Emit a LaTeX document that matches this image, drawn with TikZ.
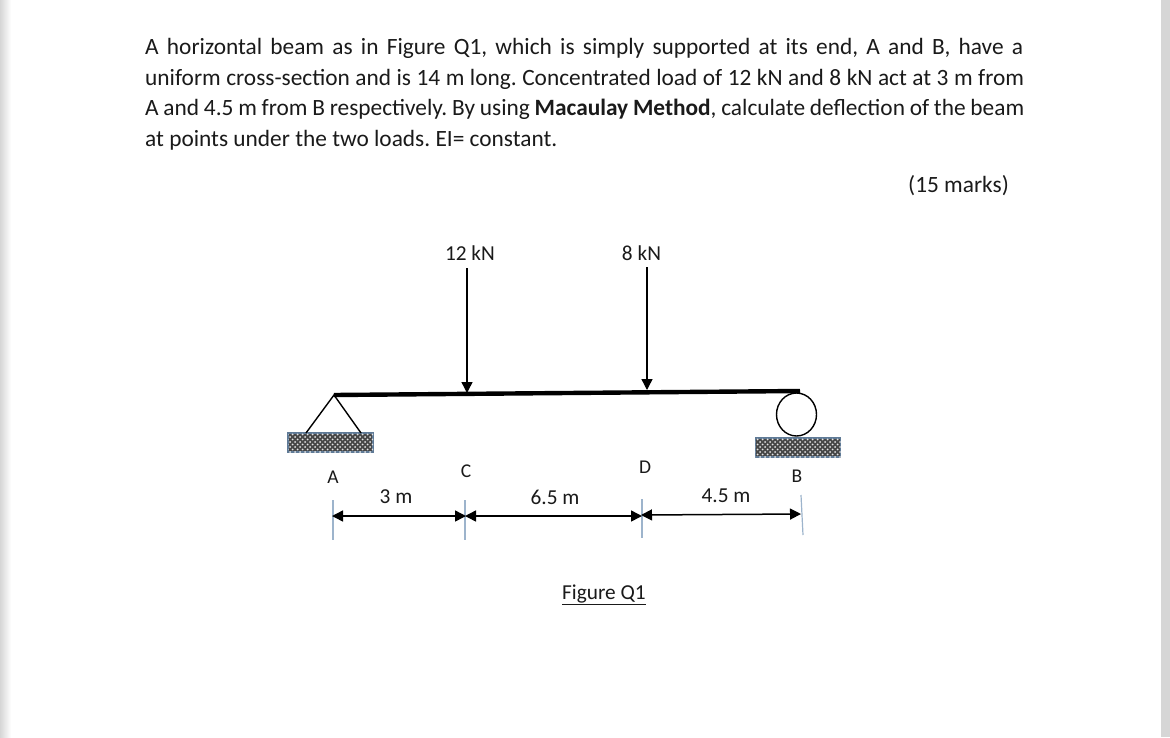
\documentclass[tikz,border=0pt]{standalone}
\usepackage{fontspec}
\setmainfont{Carlito}
\usetikzlibrary{patterns,arrows.meta,shapes.geometric}
\definecolor{band}{HTML}{D6D6D6}
\definecolor{tick}{HTML}{9DB4CC}
\definecolor{frameblue}{HTML}{5F7A96}
\definecolor{ink}{HTML}{1A1A1A}
\pgfdeclarepatternformonly{meshdots}{\pgfqpoint{-1.5pt}{-1.5pt}}{\pgfqpoint{5pt}{5pt}}{\pgfqpoint{5pt}{5pt}}{%
  \pgfpathcircle{\pgfqpoint{0pt}{0pt}}{1pt}
  \pgfpathcircle{\pgfqpoint{2.5pt}{2.5pt}}{1pt}
  \pgfusepath{fill}}
\tikzset{
  x=1pt,y=-1pt,
  para/.style={anchor=base west,inner sep=0pt,text=ink,font=\fontsize{23.35}{27}\selectfont\frenchspacing},
  lab/.style={inner sep=0pt,text=ink,font=\fontsize{21.3}{25}\selectfont},
  ptlab/.style={inner sep=0pt,text=ink,font=\fontsize{19.5}{23}\selectfont},
  beam/.style={line width=4.4pt,black},
  load/.style={line width=1.4pt,black,-{Triangle[length=11pt,width=11pt]}},
  dim/.style={line width=1.5pt,black,{Triangle[length=11pt,width=11pt]}-{Triangle[length=11pt,width=11pt]}},
  ticks/.style={line width=1.2pt,tick},
  support/.style={line width=1.4pt,black},
  ground/.style={draw=frameblue,line width=1.2pt,fill=black!72,postaction={pattern=meshdots,pattern color=white!90!black}}
}
\begin{document}
\begin{tikzpicture}
\useasboundingbox (0,0) rectangle (1170,737);
\fill[white] (0,0) rectangle (1170,737);
\shade[left color=band,right color=white] (0,0) rectangle (11,737);
\fill[band] (1161,0) rectangle (1170,737);
% paragraph
\node[para] (l1) at (145,54) {\hbox to 878pt{A horizontal beam as in Figure Q1, which is simply supported at its end, A and B, have a}};
\node[para] (l2) at (145,85) {\hbox to 879pt{uniform cross-section and is 14 m long. Concentrated load of 12 kN and 8 kN act at 3 m from}};
\node[para] (l3) at (145,115) {\hbox to 879pt{A and 4.5 m from B respectively. By using \textbf{Macaulay Method}, calculate deflection of the beam}};
\node[para] (l4) at (145,146) {at points under the two loads. EI= constant.};
\node[para] (marks) at (908,192) {(15 marks)};
% points
\coordinate (bA) at (334,395);
\coordinate (bB) at (800,391);
\coordinate (cTop) at (467,268);
\coordinate (cBeam) at (467,393);
\coordinate (dTop) at (647,267);
\coordinate (dBeam) at (647,390);
\coordinate (triL) at (306,433);
\coordinate (triR) at (361,433);
\coordinate (dA) at (332,516);
\coordinate (dC1) at (466,516);
\coordinate (dC2) at (465,516);
\coordinate (dD1) at (642,516);
\coordinate (dD2) at (641,515);
\coordinate (dB) at (801,514);
\coordinate (tA1) at (333,500); \coordinate (tA2) at (333,540);
\coordinate (tC1) at (465,500); \coordinate (tC2) at (465,540);
\coordinate (tD1) at (642,499); \coordinate (tD2) at (642,538);
\coordinate (tB1) at (801,495); \coordinate (tB2) at (803,535);
% supports
\node[ground,minimum width=85pt,minimum height=19pt,inner sep=0pt] (gA) at (330.5,442.5) {};
\node[ground,minimum width=85pt,minimum height=19pt,inner sep=0pt] (gB) at (798,447.5) {};
\draw[support] (triL) -- (bA) -- (triR);
\node[draw,ellipse,support,minimum width=40pt,minimum height=43pt,inner sep=0pt] (roller) at (796.5,414.5) {};
% beam and loads
\draw[beam] (bA) -- (bB);
\draw[load] (cTop) -- (cBeam);
\draw[load] (dTop) -- (dBeam);
% dimension lines
\draw[ticks] (tA1) -- (tA2);
\draw[ticks] (tC1) -- (tC2);
\draw[ticks] (tD1) -- (tD2);
\draw[ticks] (tB1) -- (tB2);
\draw[dim] (dA) -- (dC1);
\draw[dim] (dC2) -- (dD1);
\draw[dim] (dD2) -- (dB);
% labels
\node[lab] (f12) at (470,253) {12 kN};
\node[lab] (f8) at (641.5,253) {8 kN};
\node[ptlab] (A) at (333,477) {A};
\node[ptlab] (C) at (466,471) {C};
\node[ptlab] (D) at (645,467) {D};
\node[ptlab] (B) at (797,476) {B};
\node[lab] (s1) at (396,497) {3 m};
\node[lab] (s2) at (555,497) {6.5 m};
\node[lab] (s3) at (726,496) {4.5 m};
\node[lab] (fig) at (604,595) {\underline{Figure Q1}};
\end{tikzpicture}
\end{document}
